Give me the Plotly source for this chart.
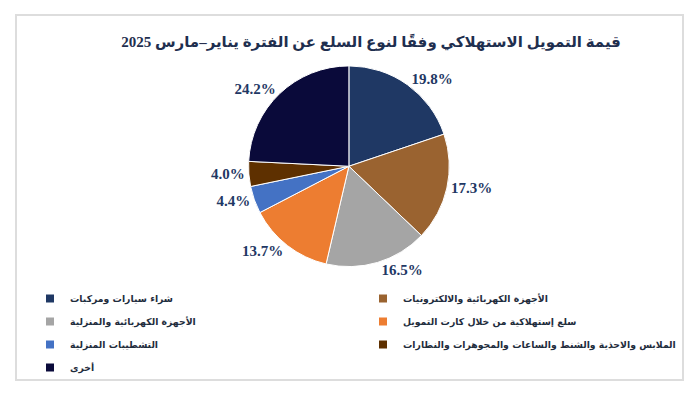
import plotly.graph_objects as go

categories = [
    "شراء سيارات ومركبات",
    "الأجهزة الكهربائية والالكترونيات",
    "الأجهزة الكهربائية والمنزلية",
    "سلع إستهلاكية من خلال كارت التمويل",
    "التشطيبات المنزلية",
    "الملابس والاحذية والشنط والساعات والمجوهرات والنظارات",
    "أخرى",
]
values = [19.8, 17.3, 16.5, 13.7, 4.4, 4.0, 24.2]
colors = ["#1F3864", "#9A6330", "#A5A5A5", "#ED7D31", "#4472C4", "#5E3000", "#0A0A3A"]
title_text = "قيمة التمويل الاستهلاكي وفقًا لنوع السلع عن الفترة يناير–مارس 2025"

# page body has an 8px margin, so the figure is 8px smaller than the window
W, H = 688, 386

fig = go.Figure()
fig.add_trace(go.Pie(
    labels=categories,
    values=values,
    sort=False,
    direction="clockwise",
    rotation=0,
    marker=dict(colors=colors, line=dict(color="white", width=1)),
    texttemplate="%{value:.1f}%",
    textposition="outside",
    outsidetextfont=dict(family="Liberation Serif", size=15, color="#1F3864", weight="bold"),
    domain=dict(x=[0.15, 0.841], y=[0.33, 0.85]),
    hoverinfo="label+percent",
    showlegend=False,
))

# legend entries in two columns (row-wise order like the original)
for i, (name, col) in enumerate(zip(categories, colors)):
    fig.add_trace(go.Scatter(
        x=[None], y=[None], mode="markers", name=name,
        marker=dict(symbol="square", size=8, color=col),
        legend="legend" if i % 2 == 0 else "legend2",
        legendgroup="g%d" % i,
        hoverinfo="skip",
    ))

legend_style = dict(
    orientation="v",
    xanchor="left",
    yanchor="top",
    y=1 - 276 / H,
    font=dict(family="DejaVu Sans", size=9.3, color="#1F2D3D", weight="bold"),
    itemclick=False,
    traceorder="grouped",
    tracegroupgap=4,
    bgcolor="rgba(0,0,0,0)",
)

fig.update_layout(
    width=W, height=H,
    margin=dict(l=0, r=0, t=0, b=0, autoexpand=False),
    paper_bgcolor="white",
    plot_bgcolor="white",
    xaxis=dict(visible=False),
    yaxis=dict(visible=False),
    title=dict(
        text="<b>" + title_text + "</b>",
        x=363 / W, xanchor="center",
        y=1 - 34 / H, yanchor="middle",
        font=dict(family="Liberation Serif, DejaVu Sans", size=15, color="#1F2F4F"),
    ),
    legend=dict(x=22 / W, **legend_style),
    legend2=dict(x=355 / W, **legend_style),
    shapes=[dict(
        type="rect", xref="paper", yref="paper",
        x0=8 / W, x1=675 / W, y0=1 - 372 / H, y1=1 - 7 / H,
        line=dict(color="#DDDDDD", width=2),
        fillcolor="rgba(0,0,0,0)",
    )],
)

fig.write_html("out.html")
